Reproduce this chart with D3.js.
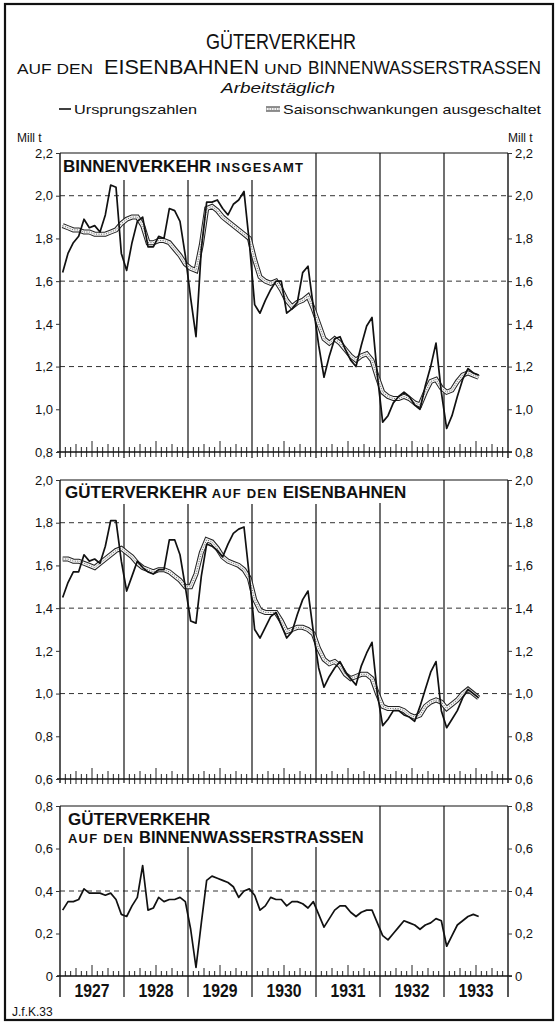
<!DOCTYPE html>
<html>
<head>
<meta charset="utf-8">
<script src="https://cdn.jsdelivr.net/npm/d3@7/dist/d3.min.js"></script>
<style>
  body { margin: 0; background: #fff; }
  text { font-family: "Liberation Sans", Arial, sans-serif; fill: #111; }
</style>
</head>
<body>
<svg id="chart" width="559" height="1025"></svg>
<script>
// months Jan 1927 .. Jul 1933, Mill. t arbeitstaeglich
var years = [1927, 1928, 1929, 1930, 1931, 1932, 1933]

var binnenOrig = [1.64,1.73,1.78,1.81,1.89,1.85,1.86,1.83,1.91,2.05,2.04,1.73,
                  1.65,1.78,1.88,1.90,1.76,1.76,1.81,1.80,1.94,1.93,1.88,1.72,
                  1.52,1.34,1.75,1.97,1.97,1.98,1.94,1.91,1.96,1.98,2.02,1.78,
                  1.49,1.45,1.51,1.56,1.60,1.60,1.45,1.47,1.50,1.64,1.67,1.48,
                  1.30,1.15,1.25,1.33,1.34,1.28,1.23,1.20,1.30,1.39,1.43,1.16,
                  0.94,0.97,1.03,1.06,1.08,1.06,1.02,1.00,1.11,1.20,1.31,1.08,
                  0.91,0.97,1.06,1.14,1.19,1.17,1.16]
var binnenSais = [1.86,1.85,1.84,1.84,1.83,1.83,1.82,1.82,1.82,1.83,1.84,1.87,
                  1.89,1.90,1.90,1.86,1.78,1.78,1.79,1.79,1.78,1.75,1.72,1.68,
                  1.66,1.65,1.77,1.94,1.95,1.93,1.90,1.88,1.86,1.84,1.82,1.80,
                  1.70,1.62,1.60,1.59,1.60,1.56,1.51,1.48,1.50,1.51,1.53,1.47,
                  1.40,1.33,1.31,1.33,1.31,1.28,1.25,1.23,1.25,1.26,1.23,1.15,
                  1.08,1.06,1.05,1.05,1.06,1.05,1.03,1.02,1.08,1.13,1.14,1.10,
                  1.08,1.09,1.13,1.16,1.17,1.16,1.15]
var bahnOrig = [1.45,1.52,1.57,1.57,1.65,1.62,1.63,1.61,1.69,1.81,1.81,1.62,
                1.48,1.55,1.62,1.59,1.57,1.56,1.58,1.58,1.72,1.72,1.65,1.50,
                1.34,1.33,1.55,1.70,1.69,1.67,1.64,1.70,1.75,1.77,1.78,1.55,
                1.30,1.26,1.31,1.36,1.38,1.32,1.26,1.29,1.37,1.44,1.48,1.29,
                1.12,1.03,1.08,1.12,1.15,1.10,1.07,1.04,1.13,1.19,1.24,1.00,
                0.85,0.88,0.92,0.92,0.90,0.89,0.87,0.94,1.02,1.10,1.15,0.92,
                0.84,0.88,0.92,0.98,1.02,1.00,0.98]
var bahnSais = [1.63,1.63,1.62,1.62,1.61,1.60,1.59,1.61,1.63,1.65,1.67,1.68,
                1.66,1.64,1.61,1.59,1.58,1.57,1.58,1.58,1.57,1.55,1.53,1.50,
                1.50,1.56,1.66,1.72,1.71,1.68,1.64,1.62,1.61,1.60,1.58,1.54,
                1.44,1.39,1.38,1.38,1.38,1.34,1.29,1.30,1.31,1.31,1.30,1.28,
                1.21,1.16,1.14,1.15,1.13,1.09,1.07,1.08,1.09,1.09,1.07,1.00,
                0.94,0.93,0.93,0.93,0.92,0.90,0.89,0.90,0.94,0.96,0.97,0.96,
                0.93,0.95,0.97,1.00,1.02,1.00,0.98]
var wasserOrig = [0.31,0.35,0.35,0.36,0.41,0.39,0.39,0.39,0.38,0.39,0.36,0.29,
                  0.28,0.33,0.37,0.52,0.31,0.32,0.37,0.35,0.36,0.36,0.37,0.35,
                  0.22,0.04,0.25,0.45,0.47,0.46,0.45,0.44,0.42,0.37,0.40,0.41,
                  0.38,0.31,0.33,0.37,0.36,0.36,0.33,0.35,0.35,0.34,0.32,0.35,
                  0.29,0.23,0.27,0.31,0.33,0.33,0.30,0.28,0.30,0.31,0.31,0.25,
                  0.19,0.17,0.20,0.23,0.26,0.25,0.24,0.22,0.24,0.25,0.27,0.26,
                  0.14,0.19,0.24,0.26,0.28,0.29,0.28]

var ticks1 = [0.8, 1.0, 1.2, 1.4, 1.6, 1.8, 2.0, 2.2]
var ticks2 = [0.6, 0.8, 1.0, 1.2, 1.4, 1.6, 1.8, 2.0]
var ticks3 = [0, 0.2, 0.4, 0.6, 0.8]

var svg = d3.select("#chart")
var L = 60, R = 508
var x = d3.scaleLinear().domain([0, years.length * 12]).range([L, R])

var fmt = function(d) { return d === 0 ? "0" : d3.format(".1f")(d).replace(".", ",") }

// frame
svg.append("rect").attr("x", 5).attr("y", 4).attr("width", 548).attr("height", 1016)
   .attr("fill", "none").attr("stroke", "#111").attr("stroke-width", 2.2)

// heading
function fitText(str, x0, x1, y, size, style) {
  var t = svg.append("text").attr("x", x0).attr("y", y).attr("font-size", size)
    .attr("textLength", x1 - x0).attr("lengthAdjust", "spacingAndGlyphs").text(str)
  if (style) t.attr("font-style", style)
  return t
}
fitText("GÜTERVERKEHR", 206, 356, 49, 22)
fitText("AUF DEN", 17, 93, 74, 15)
fitText("EISENBAHNEN", 104, 259, 74, 20)
fitText("UND", 264, 302, 74, 15)
fitText("BINNENWASSERSTRASSEN", 308, 541, 74, 18.5)
fitText("Arbeitstäglich", 221, 335, 93, 15, "italic")
fitText("Ursprungszahlen", 74, 197, 114, 13)
fitText("Saisonschwankungen ausgeschaltet", 283, 541, 114, 13)
svg.append("line").attr("x1", 59).attr("x2", 71).attr("y1", 109).attr("y2", 109)
   .attr("stroke", "#111").attr("stroke-width", 1.6)
svg.append("text").attr("x", 17).attr("y", 142).attr("font-size", 12).text("Mill t")
svg.append("text").attr("x", 508).attr("y", 142).attr("font-size", 12).text("Mill t")
svg.append("text").attr("x", 12).attr("y", 1016).attr("font-size", 12).text("J.f.K.33")

function band(g, path) {
  g.append("path").attr("d", path).attr("fill", "none").attr("stroke", "#222").attr("stroke-width", 5)
  g.append("path").attr("d", path).attr("fill", "none").attr("stroke", "#f2f2f2").attr("stroke-width", 3)
  g.append("path").attr("d", path).attr("fill", "none").attr("stroke", "#666").attr("stroke-width", 1)
   .attr("stroke-dasharray", "1,1.5")
}
band(svg, "M266,109H280")

var panels = [
  {top: 153, bottom: 452, lo: 0.8, hi: 2.2, ticks: ticks1, grid: [2.0, 1.6, 1.2],
   orig: binnenOrig, sais: binnenSais, yearTop: [180, 180, 180, 153, 153, 153],
   title: [[63, 172, [["BINNENVERKEHR", 17], [" INSGESAMT", 13]]]]},
  {top: 480, bottom: 779, lo: 0.6, hi: 2.0, ticks: ticks2, grid: [1.8, 1.4, 1.0],
   orig: bahnOrig, sais: bahnSais, yearTop: [504, 504, 504, 504, 503, 480],
   title: [[65, 498, [["GÜTERVERKEHR", 17], [" AUF DEN ", 13], ["EISENBAHNEN", 17]]]]},
  {top: 806, bottom: 976, lo: 0, hi: 0.8, ticks: ticks3, grid: [0.4],
   orig: wasserOrig, sais: null, yearTop: [847, 847, 847, 847, 806, 806],
   title: [[68, 825, [["GÜTERVERKEHR", 17]]], [68, 843, [["AUF DEN ", 13], ["BINNENWASSERSTRASSEN", 16.5]]]]}
]

panels.forEach(function(p, pi) {
  var y = d3.scaleLinear().domain([p.lo, p.hi]).range([p.bottom, p.top])
  var g = svg.append("g")
  var last = pi === 2

  // grid
  g.selectAll(".grid").data(p.grid).enter().append("line")
    .attr("x1", L).attr("x2", R).attr("y1", y).attr("y2", y)
    .attr("stroke", "#333").attr("stroke-width", 1).attr("stroke-dasharray", "5,4")

  // month ticks
  var months = d3.range(1, years.length * 12).filter(function(m) { return m % 12 !== 0 })
  g.selectAll(".mt").data(months).enter().append("line")
    .attr("x1", x).attr("x2", x)
    .attr("y1", function(m) { return p.bottom - (m % 12 === 6 ? 11 : m % 3 === 0 ? 8 : 5) })
    .attr("y2", last ? p.bottom : p.bottom + 5)
    .attr("stroke", "#222").attr("stroke-width", 1)

  // year lines
  var yb = last ? 997 : p.bottom + (pi === 0 ? 6 : 4)
  g.selectAll(".yr").data(d3.range(1, years.length)).enter().append("line")
    .attr("x1", function(k) { return x(k * 12) }).attr("x2", function(k) { return x(k * 12) })
    .attr("y1", function(k) { return p.yearTop[k - 1] }).attr("y2", yb)
    .attr("stroke", "#111").attr("stroke-width", 1.2)

  // box
  g.append("line").attr("x1", L).attr("x2", R).attr("y1", p.top).attr("y2", p.top)
    .attr("stroke", "#111").attr("stroke-width", 1.2)
  g.append("line").attr("x1", L - 3).attr("x2", R + 4).attr("y1", p.bottom).attr("y2", p.bottom)
    .attr("stroke", "#111").attr("stroke-width", 1.6)
  g.append("line").attr("x1", L).attr("x2", L).attr("y1", p.top).attr("y2", yb)
    .attr("stroke", "#111").attr("stroke-width", 1.4)
  g.append("line").attr("x1", R).attr("x2", R).attr("y1", p.top).attr("y2", yb)
    .attr("stroke", "#111").attr("stroke-width", 1.4)

  // axes
  var left = g.append("g").attr("transform", "translate(" + L + ",0)")
    .call(d3.axisLeft(y).tickValues(p.ticks).tickSize(4).tickFormat(fmt))
  var right = g.append("g").attr("transform", "translate(" + R + ",0)")
    .call(d3.axisRight(y).tickValues(p.ticks).tickSize(4).tickFormat(fmt))
  ;[left, right].forEach(function(a) {
    a.select(".domain").remove()
    a.selectAll("text").attr("font-size", 13).attr("fill", "#333")
      .style("font-family", "'Liberation Sans', Arial, sans-serif")
    a.selectAll("line").attr("stroke", "#333")
  })

  // series
  var line = d3.line().x(function(d, i) { return x(i + 0.5) }).y(function(d) { return y(d) })
  if (p.sais) band(g, line(p.sais))
  g.append("path").attr("d", line(p.orig)).attr("fill", "none")
    .attr("stroke", "#111").attr("stroke-width", 1.7).attr("stroke-linejoin", "round")

  // panel title
  p.title.forEach(function(t) {
    var tx = g.append("text").attr("x", t[0]).attr("y", t[1]).attr("font-weight", "bold")
    t[2].forEach(function(part) {
      tx.append("tspan").attr("font-size", part[1])
        .attr("letter-spacing", part[1] < 15 ? 1.2 : 0).text(part[0])
    })
  })

  if (last) {
    g.selectAll(".yl").data(years).enter().append("text")
      .attr("x", function(d, k) { return x(k * 12 + 6) - 17.5 }).attr("y", 997)
      .attr("font-size", 19).attr("font-weight", "bold")
      .attr("textLength", 35).attr("lengthAdjust", "spacingAndGlyphs")
      .text(function(d) { return d })
  }
})
</script>
</body>
</html>
